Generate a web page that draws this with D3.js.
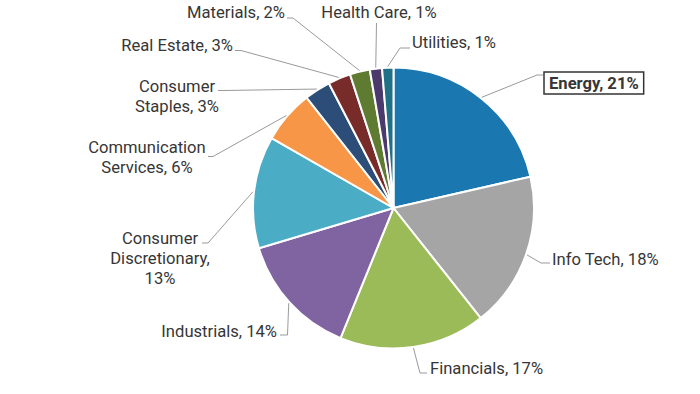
<!DOCTYPE html>
<html><head><meta charset="utf-8">
<script src="https://cdn.jsdelivr.net/npm/d3@7"></script>
<style>body{margin:0;background:#fff}svg{display:block}text{font-family:Roboto,"Noto Sans",sans-serif}</style>
</head><body>
<svg id="c" width="700" height="394"></svg>
<script>
// ---- data ----
const sectors = ["Energy","Info Tech","Financials","Industrials","Consumer Discretionary","Communication Services","Consumer Staples","Real Estate","Materials","Health Care","Utilities"];
const weights = [21.4, 17.9, 16.8, 14.2, 12.9, 6.1, 3.0, 2.6, 2.3, 1.4, 1.3];
const colors = ["#1a77b0","#a5a5a5","#9bbb59","#8064a2","#4bacc6","#f79646","#2b4d78","#772c2a","#5f7a31","#4b3b6c","#217186"];

// ---- layout (label placement) ----
const cx = 393.5, cy = 208, R = 140.5;
// bend point of connector, end of horizontal segment, text anchor x, first baseline, anchor, line breaks
const labelLayout = [
  {bx:537, by:75,  ex:543, tx:549, ty:88.5, anchor:"start", lines:null, box:true},
  {bx:541, by:263, ex:550, tx:552, ty:264.5, anchor:"start", lines:null},
  {bx:420, by:373, ex:427, tx:430, ty:374, anchor:"start", lines:null},
  {bx:287.5, by:335, ex:280, tx:277, ty:336.5, anchor:"end", lines:null},
  {bx:208, by:243, ex:202, tx:160, ty:244, anchor:"middle", lines:[0,1,"pct"]},
  {bx:213, by:156.5, ex:208, tx:147, ty:153, anchor:"middle", lines:[0,"name1pct"]},
  {bx:224, by:90.5, ex:218, tx:177, ty:92, anchor:"middle", lines:[0,"name1pct"]},
  {bx:241, by:50.5, ex:235, tx:233, ty:50.5, anchor:"end", lines:null},
  {bx:293, by:18, ex:287, tx:285, ty:18, anchor:"end", lines:null},
  {bx:376.5, by:23, ex:376.5, tx:379, ty:18, anchor:"middle", lines:null},
  {bx:400, by:48, ex:410, tx:412, ty:47.5, anchor:"start", lines:null}
];

const svg = d3.select("#c");
const g = svg.append("g").attr("transform", `translate(${cx},${cy})`);
const pie = d3.pie().sort(null).value(d => d.v);
const data = sectors.map((s,i)=>({name:s, v:weights[i], color:colors[i], i}));
const arcs = pie(data);
const arc = d3.arc().innerRadius(0).outerRadius(R);
const edge = d3.arc().innerRadius(R+1).outerRadius(R+1);

g.selectAll("path.slice").data(arcs).join("path")
  .attr("class","slice")
  .attr("d", arc)
  .attr("fill", d => d.data.color)
  .attr("stroke", "#fff").attr("stroke-width", 2).attr("stroke-linejoin","round");

const lg = svg.append("g");
arcs.forEach((a, k) => {
  const L = labelLayout[k];
  const [px, py] = edge.centroid(a);
  const pts = [[cx+px, cy+py],[L.bx, L.by],[L.ex, L.by]];
  lg.append("path").attr("d", d3.line()(pts)).attr("fill","none")
    .attr("stroke","#9a9a9a").attr("stroke-width",1);
  const pct = Math.round(a.data.v) + "%";
  const words = a.data.name.split(" ");
  let lines;
  if (!L.lines) lines = [a.data.name + ", " + pct];
  else if (L.lines.length === 3) lines = [words[0], words[1] + ",", pct];
  else lines = [words[0], words[1] + ", " + pct];
  const t = lg.append("text").attr("x", L.tx).attr("y", L.ty)
    .attr("text-anchor", L.anchor).attr("font-size", 16.6)
    .attr("fill", "#363636").attr("font-weight", L.box ? "bold" : "normal");
  lines.forEach((ln, j) => t.append("tspan").attr("x", L.tx).attr("dy", j ? 20 : 0).text(ln));
  if (L.box) {
    const bb = t.node().getBBox();
    lg.insert("rect", "text").attr("x", bb.x - 5).attr("y", bb.y - 1.5)
      .attr("width", bb.width + 10).attr("height", bb.height + 3)
      .attr("fill","#fff").attr("stroke","#333").attr("stroke-width",1.5);
  }
});
</script>
</body></html>
